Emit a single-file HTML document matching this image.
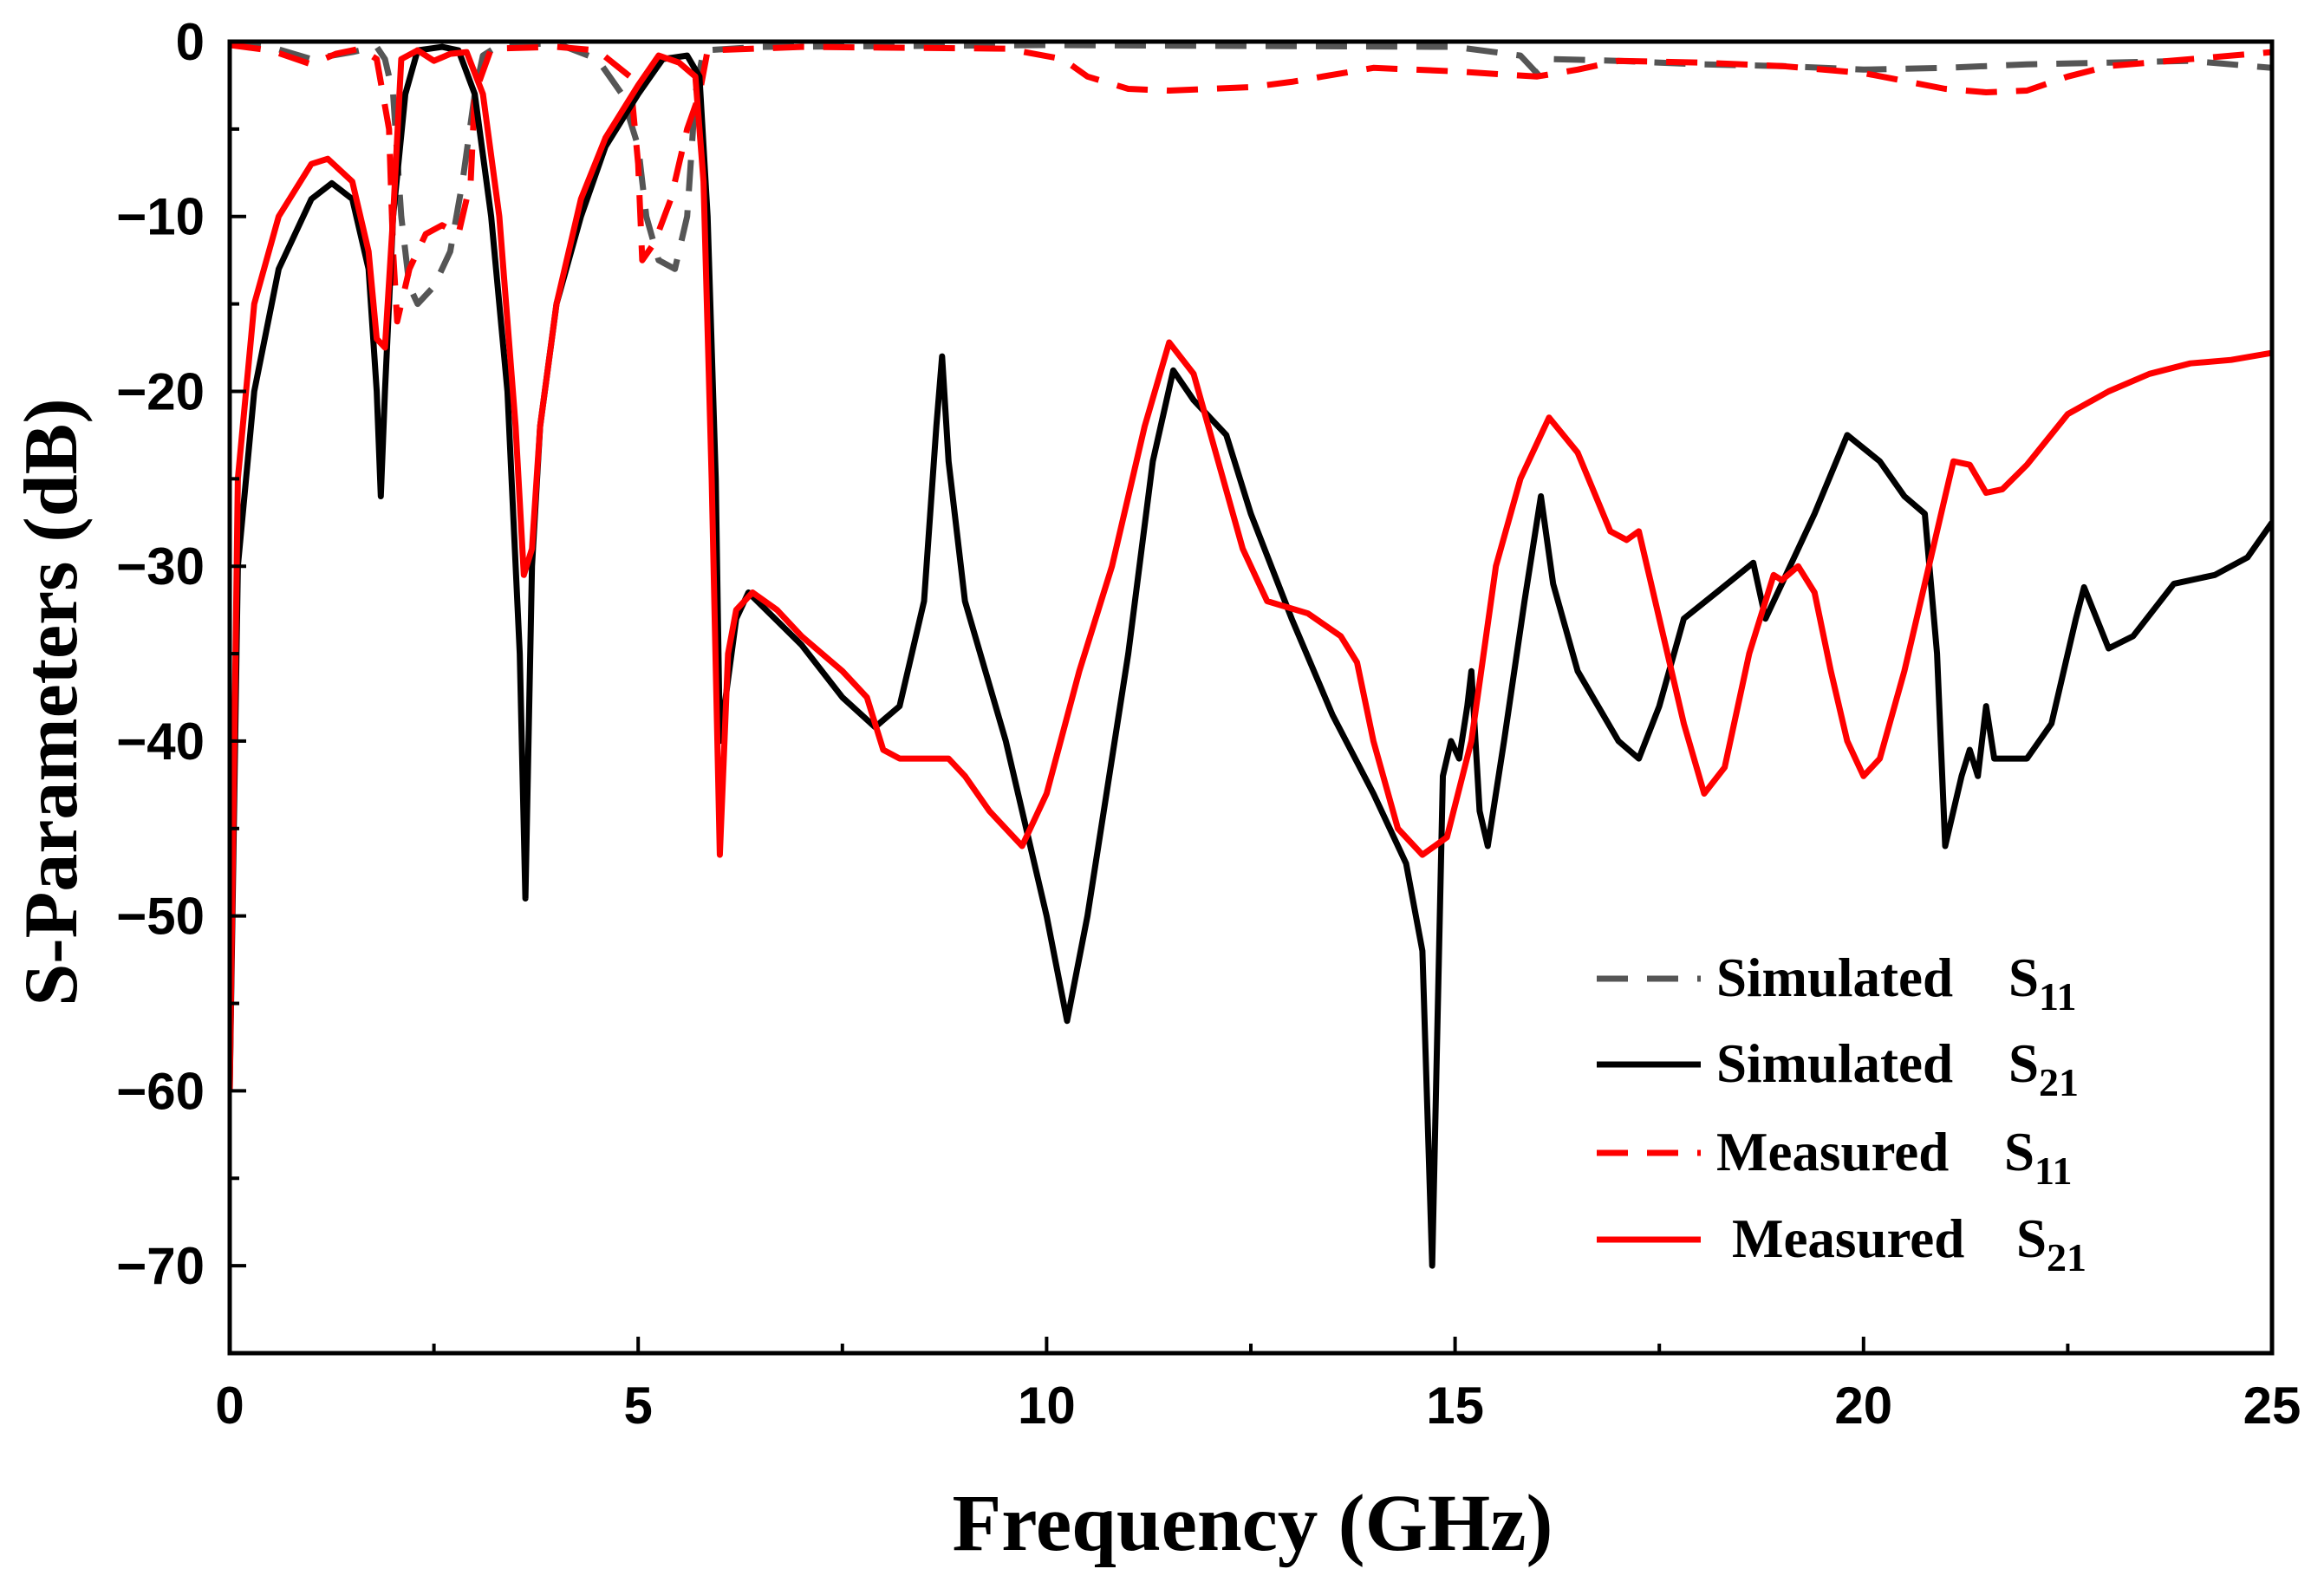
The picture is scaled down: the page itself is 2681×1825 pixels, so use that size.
<!DOCTYPE html>
<html><head><meta charset="utf-8"><style>
html,body{margin:0;padding:0;background:#fff;}
svg{display:block;}
</style></head><body>
<svg id="chart" width="2681" height="1825" viewBox="0 0 2681 1825" xmlns="http://www.w3.org/2000/svg">
<g id="series"></g>
<g id="axes"></g>
<g id="legend"></g>
</svg>
<script>
const xTicks = [0, 5, 10, 15, 20, 25];
const yTicks = [0, -10, -20, -30, -40, -50, -60, -70];
const simS21F = [0,0.1,0.3,0.6,1.0,1.25,1.5,1.7,1.8,1.85,1.9,2.0,2.15,2.3,2.6,2.8,3.0,3.2,3.4,3.55,3.62,3.7,3.8,4.0,4.3,4.6,5.0,5.3,5.6,5.75,5.85,5.95,6.0,6.2,6.35,7.0,7.5,7.9,8.2,8.5,8.65,8.72,8.8,9.0,9.5,10.0,10.25,10.5,11.0,11.3,11.55,11.8,12.2,12.5,13,13.5,14,14.4,14.6,14.72,14.85,14.95,15.05,15.15,15.2,15.3,15.4,15.6,15.85,16.05,16.2,16.5,17,17.25,17.5,17.8,18.2,18.65,18.8,19.0,19.4,19.8,20.2,20.5,20.75,20.9,21.0,21.2,21.3,21.4,21.5,21.6,22,22.3,22.6,22.7,23,23.3,23.8,24.3,24.7,25];
const simS21 = [-60,-30,-20,-13,-9,-8.1,-9,-13,-20,-26,-20,-10,-3,-0.5,-0.3,-0.5,-3,-10,-20,-35,-49,-30,-22,-15,-10,-6,-3,-1,-0.8,-2,-10,-25,-40,-33,-31.5,-34.5,-37.5,-39.2,-38,-32,-22,-18,-24,-32,-40,-50,-56,-50,-35,-24,-18.8,-20.5,-22.5,-27,-33,-38.5,-43,-47,-52,-70,-42,-40,-41,-38,-36,-44,-46,-40,-32,-26,-31,-36,-40,-41,-38,-33,-31.5,-29.8,-33,-31,-27,-22.5,-24,-26,-27,-35,-46,-42,-40.5,-42,-38,-41,-41,-39,-33,-31.2,-34.7,-34,-31,-30.5,-29.5,-27.5];
const meaS21F = [0,0.1,0.3,0.6,1.0,1.2,1.5,1.7,1.8,1.9,2.0,2.1,2.3,2.5,2.7,2.9,3.1,3.3,3.5,3.6,3.7,3.8,4.0,4.3,4.6,5.0,5.25,5.5,5.7,5.8,5.9,6.0,6.1,6.2,6.4,6.7,7.0,7.5,7.8,8.0,8.2,8.6,8.8,9.0,9.3,9.7,10.0,10.4,10.8,11.2,11.5,11.8,12.1,12.4,12.7,13.2,13.6,13.8,14.0,14.3,14.6,14.9,15.2,15.5,15.8,16.15,16.5,16.9,17.1,17.25,17.5,17.8,18.05,18.3,18.6,18.9,19.0,19.2,19.4,19.6,19.8,20.0,20.2,20.5,20.8,21.0,21.1,21.3,21.5,21.7,22,22.5,23,23.5,24.0,24.5,25];
const meaS21 = [-60,-25,-15,-10,-7,-6.7,-8,-12,-17,-17.5,-10,-1,-0.5,-1.1,-0.7,-0.6,-3,-10,-22,-30.5,-29,-22,-15,-9,-5.5,-2.5,-0.8,-1.2,-2,-8,-25,-46.5,-35,-32.5,-31.5,-32.5,-34,-36,-37.5,-40.5,-41,-41,-41,-42,-44,-46,-43,-36,-30,-22,-17.2,-19,-24,-29,-32,-32.7,-34,-35.5,-40,-45,-46.5,-45.5,-40,-30,-25,-21.5,-23.5,-28,-28.5,-28,-33,-39,-43,-41.5,-35,-30.5,-30.8,-30,-31.5,-36,-40,-42,-41,-36,-30,-26,-24,-24.2,-25.8,-25.6,-24.2,-21.3,-20,-19,-18.4,-18.2,-17.8];
const simS11F = [0,0.5,1.0,1.5,1.8,1.9,2.0,2.1,2.2,2.3,2.5,2.7,2.85,3.0,3.1,3.3,4.0,4.5,4.8,5.0,5.1,5.25,5.45,5.6,5.7,5.8,6.5,10,15,15.8,16.0,16.2,17,18,19,20,21,22,23,24,25];
const simS11 = [-0.1,-0.3,-1,-0.6,-0.3,-1,-3,-10,-14,-15,-14,-12,-8,-3,-0.8,-0.2,-0.1,-1,-3,-6,-10,-12.5,-13,-10,-3,-0.5,-0.3,-0.2,-0.3,-0.8,-1.8,-1,-1.1,-1.3,-1.4,-1.6,-1.5,-1.3,-1.2,-1.1,-1.5];
const meaS11F = [0,0.5,1.0,1.3,1.6,1.8,1.95,2.0,2.05,2.2,2.4,2.6,2.8,2.95,3.0,3.2,4.0,4.5,4.9,5.0,5.05,5.2,5.4,5.6,5.75,5.85,7,9.5,10.2,10.5,11.0,11.5,12.5,13,14,15,16,16.5,17,18,19,20,21,21.5,22,22.5,23,24,25];
const meaS11 = [-0.2,-0.5,-1.3,-0.7,-0.4,-1,-5,-12,-16,-13,-11,-10.5,-11,-8,-3,-0.4,-0.3,-0.5,-2,-7,-12.5,-11.5,-9,-5,-3,-0.5,-0.3,-0.4,-1,-2,-2.7,-2.8,-2.6,-2.3,-1.5,-1.7,-2,-1.6,-1.1,-1.2,-1.4,-1.8,-2.7,-2.9,-2.8,-2,-1.4,-1,-0.6];

const NS = 'http://www.w3.org/2000/svg';
const X0 = 265, X1 = 2621, Y0 = 48, Y1 = 1561;
function xs(f){ return X0 + (f/25)*(X1-X0); }
function ys(d){ return Y0 + (-d/75)*(Y1-Y0); }
function mk(tag, attrs, parent){ const e=document.createElementNS(NS,tag); for(const k in attrs) e.setAttribute(k,attrs[k]); parent.appendChild(e); return e; }

const sg = document.getElementById('series');
const clip = mk('clipPath',{id:'pc'},sg);
mk('rect',{x:X0,y:Y0,width:X1-X0,height:Y1-Y0},clip);
function line(fa, va, color, dash, name){
  const pts = fa.map((f,i)=>xs(f).toFixed(1)+','+ys(va[i]).toFixed(1)).join(' ');
  const p = mk('polyline',{points:pts,fill:'none',stroke:color,'stroke-width':7,'stroke-linejoin':'round','clip-path':'url(#pc)'},sg);
  if(dash) p.setAttribute('stroke-dasharray',dash);
  
  
}
line(simS11F, simS11, '#555', '36,22', 'simulated-s11-line');
line(meaS11F, meaS11, '#ff0000', '36,22', 'measured-s11-line');
line(simS21F, simS21, '#000', null, 'simulated-s21-line');
line(meaS21F, meaS21, '#ff0000', null, 'measured-s21-line');

const ag = document.getElementById('axes');
const frame = mk('rect',{x:X0,y:Y0,width:X1-X0,height:Y1-Y0,fill:'none',stroke:'#000','stroke-width':5},ag);


for(let f=0; f<=25; f+=2.5){
  const major = (f%5===0);
  mk('line',{x1:xs(f),x2:xs(f),y1:Y1,y2:Y1-(major?19:11),stroke:'#000','stroke-width':4},ag);
}
for(let d=0; d>=-75; d-=5){
  const major = (d%10===0);
  mk('line',{x1:X0,x2:X0+(major?19:11),y1:ys(d),y2:ys(d),stroke:'#000','stroke-width':4},ag);
}
xTicks.forEach(v=>{
  const t = mk('text',{x:xs(v),y:1642,'text-anchor':'middle','font-family':'Liberation Sans, sans-serif','font-weight':'bold','font-size':60},ag);
  t.textContent = v;
  
  
});
yTicks.forEach(v=>{
  const t = mk('text',{x:236,y:ys(v)+21,'text-anchor':'end','font-family':'Liberation Sans, sans-serif','font-weight':'bold','font-size':60},ag);
  t.textContent = v===0 ? '0' : '\u2212'+Math.abs(v);
  
  
});
const xt = mk('text',{x:1445,y:1788,'text-anchor':'middle','font-family':'Liberation Serif, serif','font-weight':'bold','font-size':93},ag);
xt.textContent = 'Frequency (GHz)';


const yt = mk('text',{x:0,y:0,'text-anchor':'middle','font-family':'Liberation Serif, serif','font-weight':'bold','font-size':88,transform:'translate(88,810) rotate(-90)'},ag);
yt.textContent = 'S-Parameters (dB)';



const lg = document.getElementById('legend');
const legendNames = ['Simulated', 'Simulated', 'Measured', 'Measured'];
const legendSubs = ['11', '21', '11', '21'];
const legendColors = ['#555', '#000', '#ff0000', '#ff0000'];
const legendDash = ['36,22', null, '36,22', null];
const legendY = [1129, 1228, 1330, 1430];
const legendTx = [1980, 1980, 1980, 1998];
const legendSx = [2317, 2317, 2312, 2326];
legendNames.forEach((n,i)=>{
  const l = mk('line',{x1:1842,x2:1962,y1:legendY[i],y2:legendY[i],stroke:legendColors[i],'stroke-width':7},lg);
  if(legendDash[i]) l.setAttribute('stroke-dasharray', legendDash[i]);
  
  
  const t = mk('text',{x:legendTx[i],y:legendY[i]+20,'font-family':'Liberation Serif, serif','font-weight':'bold','font-size':63},lg);
  t.textContent = n;
  
  
  const s = mk('text',{x:legendSx[i],y:legendY[i]+20,'font-family':'Liberation Serif, serif','font-weight':'bold','font-size':63},lg);
  s.textContent = 'S';
  const sub = mk('tspan',{dy:16,'font-size':46},s);
  sub.textContent = legendSubs[i];
  
  
});
</script>
</body></html>
